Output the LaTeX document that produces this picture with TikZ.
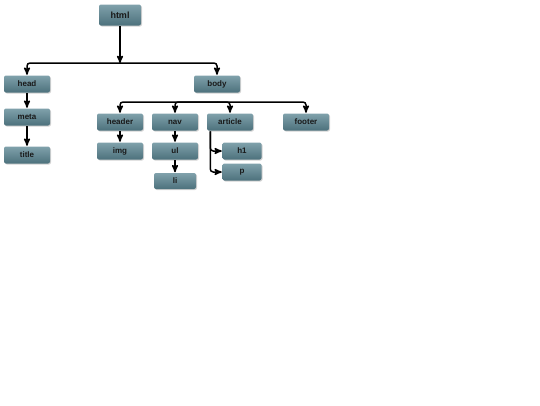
\documentclass[tikz,border=0pt]{standalone}
\usepackage{fontspec}
\setsansfont{Liberation Sans}
\usetikzlibrary{positioning, shadows, arrows}

\definecolor{tagtop}{HTML}{80A1AB}
\definecolor{tagbot}{HTML}{4C717C}

\begin{document}
\begin{tikzpicture}[x=1pt, y=-1pt, ->, >=stealth', line width=1.5pt, rounded corners=3pt,
  tag/.style={draw=none, rounded corners=2pt, top color=tagtop, bottom color=tagbot,
    drop shadow={shadow xshift=1pt, shadow yshift=-1pt, opacity=0.35},
    minimum width=46pt, minimum height=17pt, inner sep=0pt,
    font=\sffamily\bfseries\fontsize{8}{9}\selectfont, text=black!90}]
  \useasboundingbox (0,0) rectangle (540,405);

  % tree of tags
  \node[tag, minimum width=42pt, minimum height=21pt, font=\sffamily\bfseries\fontsize{9}{10}\selectfont] (html) at (120,15) {html};
  \node[tag] (head)  at (27,84)  {head};
  \node[tag] (meta)  at (27,117) {meta};
  \node[tag] (title) at (27,155) {title};
  \node[tag] (body)  at (217,84) {body};
  \node[tag] (header)  at (120,122) {header};
  \node[tag] (nav)     at (175,122) {nav};
  \node[tag] (article) at (230,122) {article};
  \node[tag] (footer)  at (306,122) {footer};
  \node[tag] (img) at (120,151) {img};
  \node[tag] (ul)  at (175,151) {ul};
  \node[tag, minimum width=42pt, minimum height=16pt] (li) at (175,181) {li};
  \node[tag, minimum width=39pt] (h1) at (242,151) {h1};
  \node[tag, minimum width=39pt] (p)  at (242,172) {p};

  \coordinate (hbar) at (120,63);
  \coordinate (bbar) at (217,102);

  \draw (html) -- (hbar);
  \draw (hbar) -| (head);
  \draw (hbar) -| (body);
  \draw (head) -- (meta);
  \draw (meta) -- (title);

  \draw (bbar) -| (header);
  \draw (bbar) -| (nav);
  \draw (bbar) -| (article);
  \draw (bbar) -| (footer);
  \draw (header) -- (img);
  \draw (nav) -- (ul);
  \draw (ul) -- (li);
  \draw ([xshift=4pt]article.south west) |- (h1);
  \draw ([xshift=4pt]article.south west) |- (p);
\end{tikzpicture}
\end{document}
